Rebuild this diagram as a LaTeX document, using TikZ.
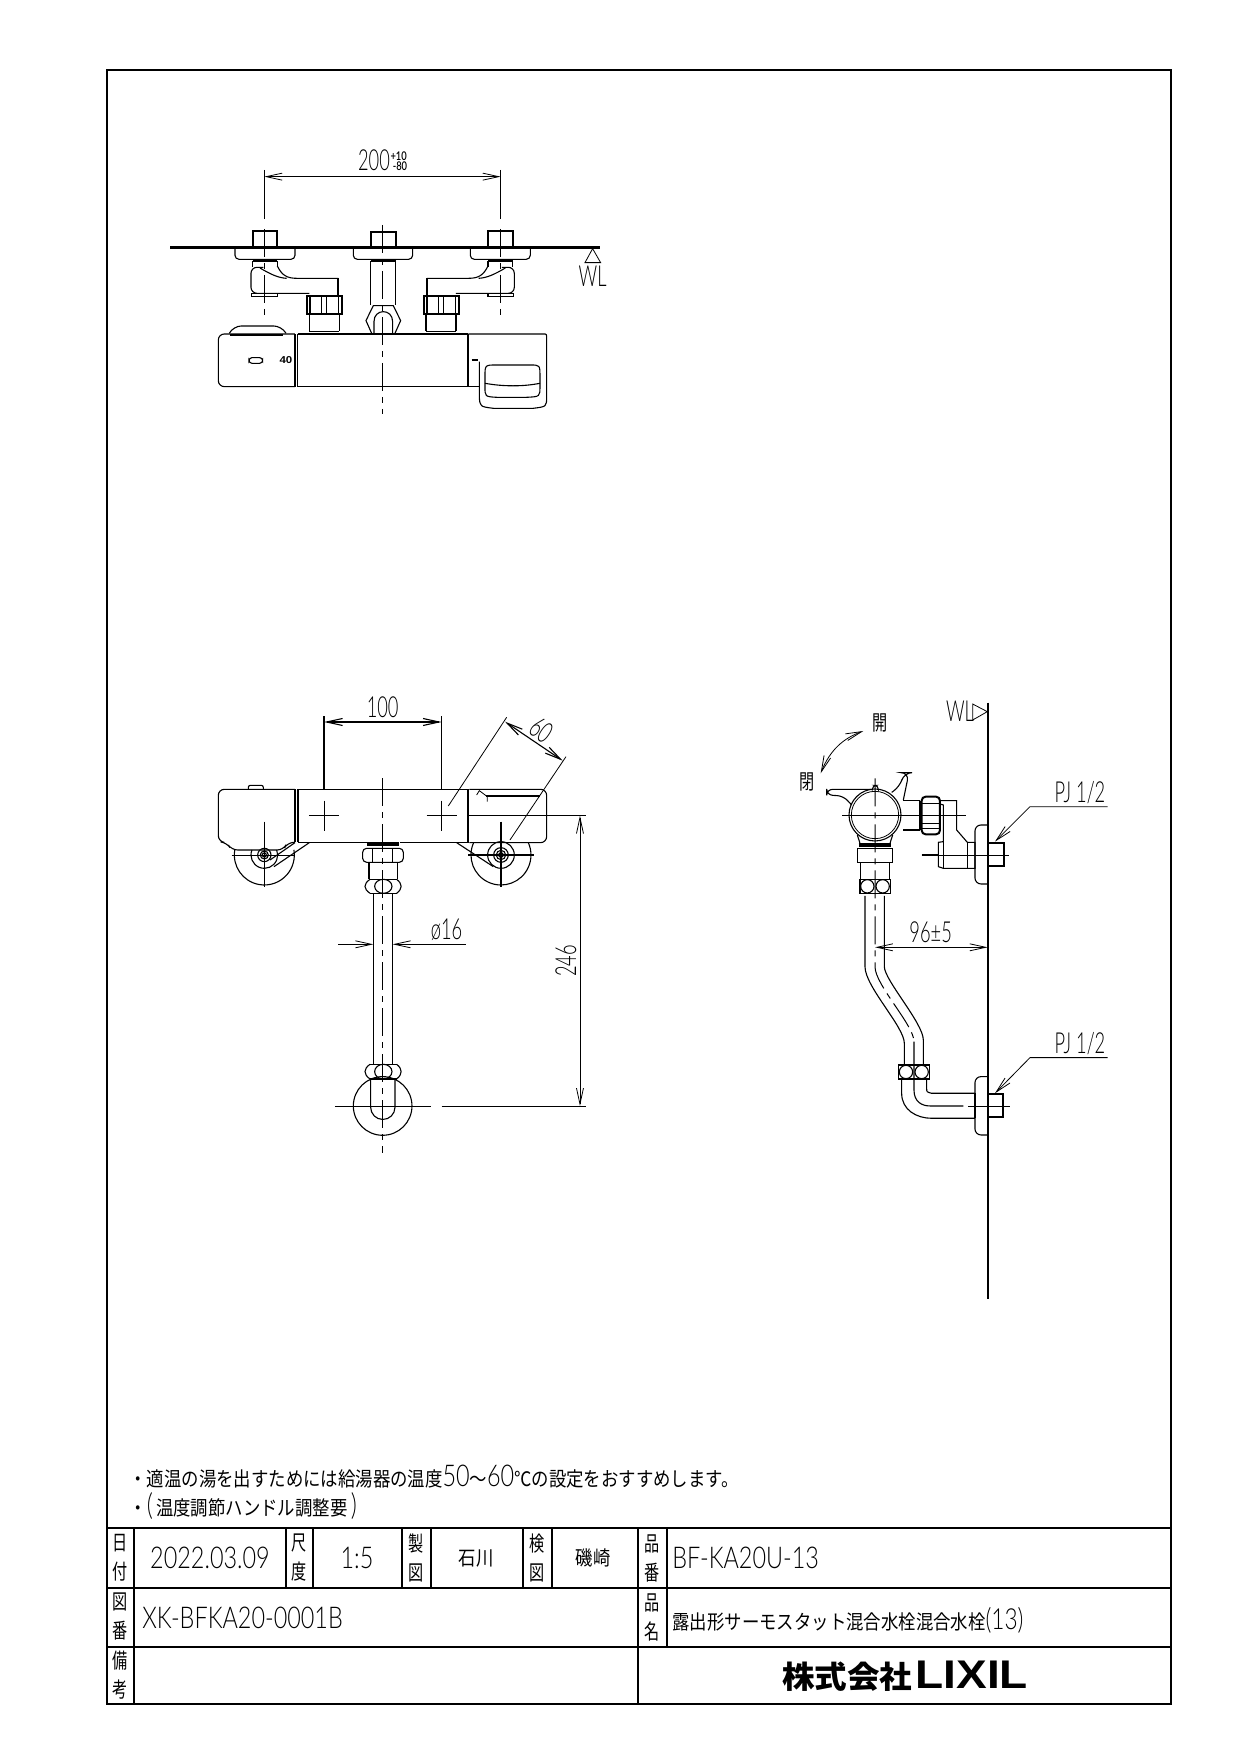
\documentclass[tikz,border=0pt]{standalone}
\usepackage{fontspec}
\usepackage{tikz}
\usetikzlibrary{arrows.meta}
\newfontfamily\cadfont[FakeStretch=0.63]{Lato Light}
\newfontfamily\cadwide[FakeStretch=0.78]{Lato Light}
\newfontfamily\jpfont[FakeStretch=0.87]{Noto Sans CJK JP}
\newfontfamily\jpnarrow[FakeStretch=0.72]{Noto Sans CJK JP}
\newfontfamily\jpbold[FakeStretch=1.05]{Noto Sans CJK JP}
\newfontfamily\logofont[FakeStretch=1.15]{Liberation Sans}
\begin{document}
\begin{tikzpicture}[
    x=0.5pt, y=-0.5pt,
    >={Straight Barb[length=8pt,width=3.5pt]},
    thinln/.style={line width=0.4pt},
    midln/.style={line width=0.55pt},
    thickln/.style={line width=1pt},
    centerln/.style={line width=0.5pt, dash pattern=on 14pt off 3pt on 3pt off 3pt},
    dimtext/.style={font=\cadfont\fontsize{14.5}{14.5}\selectfont, inner sep=0pt},
    jptext/.style={font=\jpfont\fontsize{10}{12}\selectfont, inner sep=0pt, anchor=west},
    stacktext/.style={font=\jpnarrow\fontsize{10.5}{14.5}\selectfont, inner sep=0pt, align=center},
    titletext/.style={font=\cadwide\fontsize{15}{15}\selectfont, inner sep=0pt}
  ]
  \useasboundingbox (0,0) rectangle (1240,1754);
  % top view
  \begin{scope}[shift={(150,130)}, scale=0.3333]
    \draw [line width=1.5pt] (60,352) -- (1350,352);
    \draw [thinln] (1328,356) -- (1305,398) -- (1352,398) -- cycle;
    \node [dimtext] (wltop) at (1328,438) {WL};
    \draw [thinln] (343,120) -- (343,268);
    \draw [midln] (1052,120) -- (1052,268);
    \draw [thinln, <->] (343,140) -- (1052,140);
    \node [dimtext] (size200) at (672,92) {200};
    \node [dimtext, font=\cadwide\bfseries\fontsize{6}{6}\selectfont] (tolplus) at (746,78) {+10};
    \node [dimtext, font=\cadwide\bfseries\fontsize{6}{6}\selectfont] (tolminus) at (750,108) {-80};
    % both supply elbows, one mirrored
    \foreach \mx/\sh in {1/0,-1/1396} {
      \begin{scope}[shift={(\sh,0)}, xscale=\mx]
        \draw [thickln] (308,350) -- (308,303) -- (382,303) -- (382,350);
        \draw [midln, rounded corners=2pt] (255,354) -- (255,388) -- (435,388) -- (435,354);
        \draw [thickln] (308,393) -- (382,393);
        \draw [midln] (308,393) -- (308,412) (382,393) -- (382,410);
        \draw [midln] (382,408) .. controls (395,435) and (410,445) .. (440,445) -- (565,445);
        \draw [thickln] (565,445) -- (565,495);
        \draw [midln] (330,414) .. controls (360,432) and (385,444) .. (410,445);
        \draw [midln, rounded corners=3pt] (340,412) -- (303,412) -- (303,490) -- (478,490);
        \draw [midln] (305,490) rectangle (382,499);
        \draw [thickln] (470,497) rectangle (575,552);
        \draw [midln] (480,497) -- (480,552) (515,497) -- (515,552) (530,497) -- (530,552) (565,497) -- (565,552);
        \draw [midln] (478,552) -- (478,604) (568,552) -- (568,604);
        \draw [midln] (478,604) -- (568,604);
        \draw [centerln] (343,297) -- (343,555);
      \end{scope}
    }
    \draw [thickln] (662,350) -- (662,305) -- (737,305) -- (737,350);
    \draw [midln, rounded corners=2pt] (610,354) -- (610,388) -- (788,388) -- (788,354);
    \draw [thickln] (662,393) -- (737,393);
    \draw [midln] (662,393) -- (662,525) (737,393) -- (737,525);
    \draw [midln] (665,610) -- (648,572) -- (670,527) -- (730,527) -- (752,572) -- (735,610);
    \draw [midln] (672,610) -- (672,575) .. controls (672,535) and (728,535) .. (728,575) -- (728,610);
    \draw [midln] (443,612) -- (955,612);
    \draw [midln] (443,770) -- (955,770);
    % left cap and handle
    \draw [midln, rounded corners=3pt] (435,612) -- (205,612) -- (205,770) -- (435,770);
    \draw [midln, rounded corners=4pt] (238,610) -- (250,588) -- (395,588) -- (408,610);
    \draw [midln] (240,615) -- (398,615);
    \draw [midln] (435,612) -- (435,770) (443,612) -- (443,770);
    \draw [midln, rounded corners=1.5pt] (297,683) rectangle (338,700);
    \node [dimtext, font=\logofont\bfseries\fontsize{5}{5}\selectfont] (temp40) at (408,690) {40};
    \draw [thickln] (955,612) -- (955,770);
    \draw [midln] (955,612) -- (1180,612) .. controls (1190,612) .. (1190,625) -- (1190,800) .. controls (1190,830) .. (1150,835) -- (1030,835) .. controls (990,830) .. (988,800) -- (988,695);
    \draw [midln] (955,770) -- (988,770);
    \draw [thickln] (965,690) -- (985,690);
    \draw [midln] (1005,740) .. controls (1005,705) .. (1040,705) -- (1140,705) .. controls (1170,705) .. (1170,740) -- (1170,770) .. controls (1170,800) .. (1130,802) -- (1040,802) .. controls (1005,800) .. (1005,770) -- cycle;
    \draw [midln] (1005,760) .. controls (1060,770) and (1120,770) .. (1170,760);
    \draw [centerln] (699,285) -- (699,853);
  \end{scope}
  % front view
  \begin{scope}[shift={(200,680)}, scale=0.3333]
    \draw [midln, rounded corners=3pt] (285,328) -- (55,328) -- (55,485) -- (80,488) -- (95,510) -- (250,510) -- (262,488) -- (285,487);
    \draw [midln, rounded corners=1pt] (145,328) -- (145,316) -- (190,316) -- (190,328);
    \draw [midln] (285,328) -- (285,487) (294,328) -- (294,487);
    \draw [midln] (294,328) -- (808,328);
    \draw [midln] (294,488) -- (500,488) (600,488) -- (808,488);
    \draw [thickln] (804,328) -- (804,488);
    \draw [midln, rounded corners=3pt] (808,328) -- (1040,328) -- (1040,488) -- (808,488);
    % crosshairs
    \foreach \xc/\yc/\rr in {372/407/45,725/407/45} {
      \draw [thinln] (\xc-\rr,\yc) -- (\xc+\rr,\yc) (\xc,\yc-\rr) -- (\xc,\yc+\rr);
    }
    % wheels, the y axis points down here so arcs run from 180 towards 0
    \draw [midln] (104.4,509.4) arc (190:-10:90);
    \draw [midln] (155.9,510) arc (202:-22:40);
    \draw [midln] (193,525) circle (20) (193,525) circle (12) (193,525) circle (6);
    \draw [midln] (820.8,488.4) arc (204:-24:90);
    \draw [midln] (903,525) circle (40) (903,525) circle (22) (903,525) circle (14) (903,525) circle (7);
    \draw [thinln] (193,425) -- (193,622) (95,525) -- (285,525);
    \draw [midln] (903,425) -- (903,622) (805,525) -- (1003,525);
    \draw [midln] (328,488) -- (222,560) (285,488) -- (210,540);
    \draw [midln] (770,488) -- (880,560);
    % dimensions
    \draw [midln] (372,108) -- (372,328) (725,108) -- (725,328);
    \draw [midln, <->] (372,126) -- (725,126);
    \node [dimtext] (size100) at (548,82) {100};
    \draw [thinln] (745,378) -- (920,112) (930,480) -- (1098,230);
    \draw [midln, <->] (915,125) -- (1088,242);
    \node [dimtext, rotate=-34] (size60) at (1025,150) {60};
    \draw [thickln] (858,348) -- (1020,348);
    \draw [thinln] (830,345) -- (838,332) -- (862,350) -- (862,365);
    % fitting and pipe
    \draw [line width=1.8pt] (502,492) -- (596,492);
    \draw [midln, rounded corners=2pt] (488,505) rectangle (610,547);
    \draw [midln] (518,505) -- (518,547) (578,505) -- (578,547);
    \draw [midln] (507,547) -- (507,598) (593,547) -- (593,598);
    \draw [midln] (510,598) -- (590,598) (510,640) -- (590,640);
    \draw [midln] (510,598) .. controls (490,612) and (490,626) .. (510,640);
    \draw [midln] (590,598) .. controls (608,612) and (608,626) .. (590,640);
    \draw [midln] (550,619) ellipse (26 and 21);
    \draw [midln] (520,640) -- (520,1153) (578,640) -- (578,1153);
    \draw [midln] (510,1153) -- (590,1153) (510,1197) -- (590,1197);
    \draw [midln] (510,1153) .. controls (490,1167) and (490,1183) .. (510,1197);
    \draw [midln] (590,1153) .. controls (608,1167) and (608,1183) .. (590,1197);
    \draw [midln] (550,1175) ellipse (26 and 22);
    \draw [midln] (548,1278) circle (88);
    \draw [midln] (512,1197) -- (512,1282) arc (180:0:36.5) -- (585,1197);
    % centre lines
    \draw [centerln] (548,295) -- (548,1420);
    \draw [thinln] (405,1278) -- (692,1278) (725,1278) -- (1158,1278);
    \draw [thinln] (808,407) -- (1158,407);
    \draw [thinln, <->] (1140,407) -- (1140,1278);
    \node [dimtext, rotate=90] (size246) at (1098,843) {246};
    \draw [thinln, ->] (415,793) -- (520,793);
    \draw [thinln, ->] (798,793) -- (578,793);
    \node [dimtext] (size16) at (740,748) {\o16};
  \end{scope}
  % side view
  \begin{scope}[shift={(780,680)}, scale=0.3333]
    \draw [line width=1.1pt] (623,68) -- (623,1857);
    \draw [thinln] (578,72) -- (578,120) -- (622,95) -- cycle;
    \node [dimtext] (wlside) at (540,95) {WL};
    \draw [thinln, <->] (122,280) .. controls (150,210) and (190,175) .. (250,153);
    \node [stacktext] (labelopen) at (300,130) {開};
    \node [stacktext] (labelclose) at (82,305) {閉};
    % handle
    \draw [midln] (285,405) circle (78);
    \draw [thinln] (285,405) circle (71);
    \draw [midln, rounded corners=3pt] (275,328) -- (140,328) -- (140,345) -- (190,348) -- (215,375);
    \draw [midln, rounded corners=2pt] (277,328) -- (277,316) -- (295,316) -- (295,328);
    \draw [midln, rounded corners=4pt] (335,337) -- (360,320) -- (372,278) -- (387,278) -- (370,360);
    \draw [midln] (370,362) -- (420,362) (370,450) -- (420,450) (420,362) -- (420,450);
    \draw [thickln, rounded corners=2pt] (425,350) rectangle (480,463);
    \draw [midln] (425,370) -- (480,370) (425,430) -- (480,430) (425,445) -- (480,445);
    \draw [midln] (480,362) -- (530,362) -- (530,450) -- (562,487) -- (585,487) -- (585,565) -- (490,565) -- (475,560) -- (475,487) -- (490,485) -- (490,375) -- (480,372);
    \draw [midln] (490,487) -- (490,565) (562,487) -- (562,565);
    \draw [midln, rounded corners=3pt] (623,435) -- (585,435) -- (585,612) -- (623,612);
    \draw [thickln] (623,488) -- (672,488) -- (672,558) -- (623,558);
    \draw [thinln] (425,525) -- (688,525);
    \draw [thickln] (425,525) -- (475,525);
    \draw [thinln] (187,405) -- (558,405);
    % fittings
    \draw [midln] (232,465) -- (240,490) (338,465) -- (330,490);
    \draw [line width=1.8pt] (236,495) -- (334,495);
    \draw [midln] (232,505) rectangle (338,547);
    \draw [midln] (242,547) -- (242,598) (328,547) -- (328,598);
    \draw [midln] (240,598) rectangle (332,640);
    \draw [midln] (262,619) circle (20) (308,619) circle (20);
    \draw [midln] (355,1155) rectangle (448,1197);
    \draw [midln] (378,1176) circle (20) (425,1176) circle (20);
    % pipe
    \draw [midln] (255,648) -- (255,860) .. controls (255,920) and (373,1040) .. (373,1090) -- (373,1155);
    \draw [midln] (313,648) -- (313,860) .. controls (313,900) and (430,1030) .. (430,1080) -- (430,1155);
    \draw [centerln] (285,295) -- (285,860) .. controls (285,915) and (402,1035) .. (402,1085);
    \draw [midln] (402,1085) -- (402,1230) .. controls (402,1265) and (425,1278) .. (450,1278) -- (550,1278);
    \draw [midln] (365,1197) -- (365,1240) .. controls (365,1290) and (410,1315) .. (455,1315) -- (585,1315);
    \draw [midln] (440,1197) -- (440,1225) .. controls (440,1236) .. (455,1240) -- (585,1240);
    \draw [midln] (585,1240) -- (585,1315);
    \draw [midln, rounded corners=3pt] (623,1190) -- (585,1190) -- (585,1365) -- (623,1365);
    \draw [thickln] (623,1242) -- (670,1242) -- (670,1312) -- (623,1312);
    \draw [thinln] (565,1278) -- (690,1278);
    % dimensions and leaders
    \draw [thinln, <->] (285,802) -- (623,802);
    \node [dimtext] (size96) at (452,758) {96±5};
    \draw [thinln, ->] (983,380) -- (750,380) -- (645,485);
    \draw [thinln, ->] (983,1133) -- (750,1133) -- (645,1240);
    \node [dimtext] (pjupper) at (900,338) {PJ 1/2};
    \node [dimtext] (pjlower) at (900,1092) {PJ 1/2};
  \end{scope}
  % notes
  \node [jptext] (noteone) at (129,1477) {・適温の湯を出すためには給湯器の温度{\cadwide\fontsize{15}{15}\selectfont 50}～{\cadwide\fontsize{15}{15}\selectfont 60}℃の設定をおすすめします。};
  \node [jptext] (notetwo) at (129,1506) {・{\cadwide\fontsize{15}{15}\selectfont (}\,温度調節ハンドル調整要\,{\cadwide\fontsize{15}{15}\selectfont )}};
  % frame and title block
  \draw [thickln] (107,70) rectangle (1171,1704);
  \draw [line width=1.4pt] (107,1528) -- (1171,1528);
  \draw [midln] (107,1588) -- (1171,1588) (107,1647) -- (1171,1647);
  \draw [midln] (134,1528) -- (134,1704) (638,1528) -- (638,1704);
  \draw [midln] (667,1528) -- (667,1647);
  \foreach \xl in {286,313,402,431,523,552} {
    \draw [midln] (\xl,1528) -- (\xl,1588);
  }
  \foreach \nm/\xc/\yc/\ta/\tb in {cellA/120/1558/日/付,cellB/299/1558/尺/度,cellC/416/1558/製/図,cellD/537/1558/検/図,cellE/652/1558/品/番,cellF/120/1617/図/番,cellG/652/1617/品/名,cellH/120/1675/備/考} {
    \node [stacktext] (\nm) at (\xc,\yc) {\ta\\\tb};
  }
  \node [titletext] (datecell) at (210,1558) {2022.03.09};
  \node [titletext] (scalecell) at (357,1558) {1:5};
  \node [stacktext, font=\jpfont\fontsize{10}{12}\selectfont] (drawncell) at (476,1558) {石川};
  \node [stacktext, font=\jpfont\fontsize{10}{12}\selectfont] (checkcell) at (593,1558) {磯崎};
  \node [titletext, anchor=west] (modelcell) at (672,1558) {BF-KA20U-13};
  \node [titletext, anchor=west] (drawingcell) at (142,1618) {XK-BFKA20-0001B};
  \node [jptext] (namecell) at (672,1620) {露出形サーモスタット混合水栓混合水栓{\cadwide\fontsize{14.5}{14.5}\selectfont (13)}};
  \node [inner sep=0pt] (logocell) at (905,1676) {{\jpbold\bfseries\fontsize{15.5}{16}\selectfont 株式会社}\,{\logofont\bfseries\fontsize{20}{20}\selectfont LIXIL}};
\end{tikzpicture}
\end{document}
